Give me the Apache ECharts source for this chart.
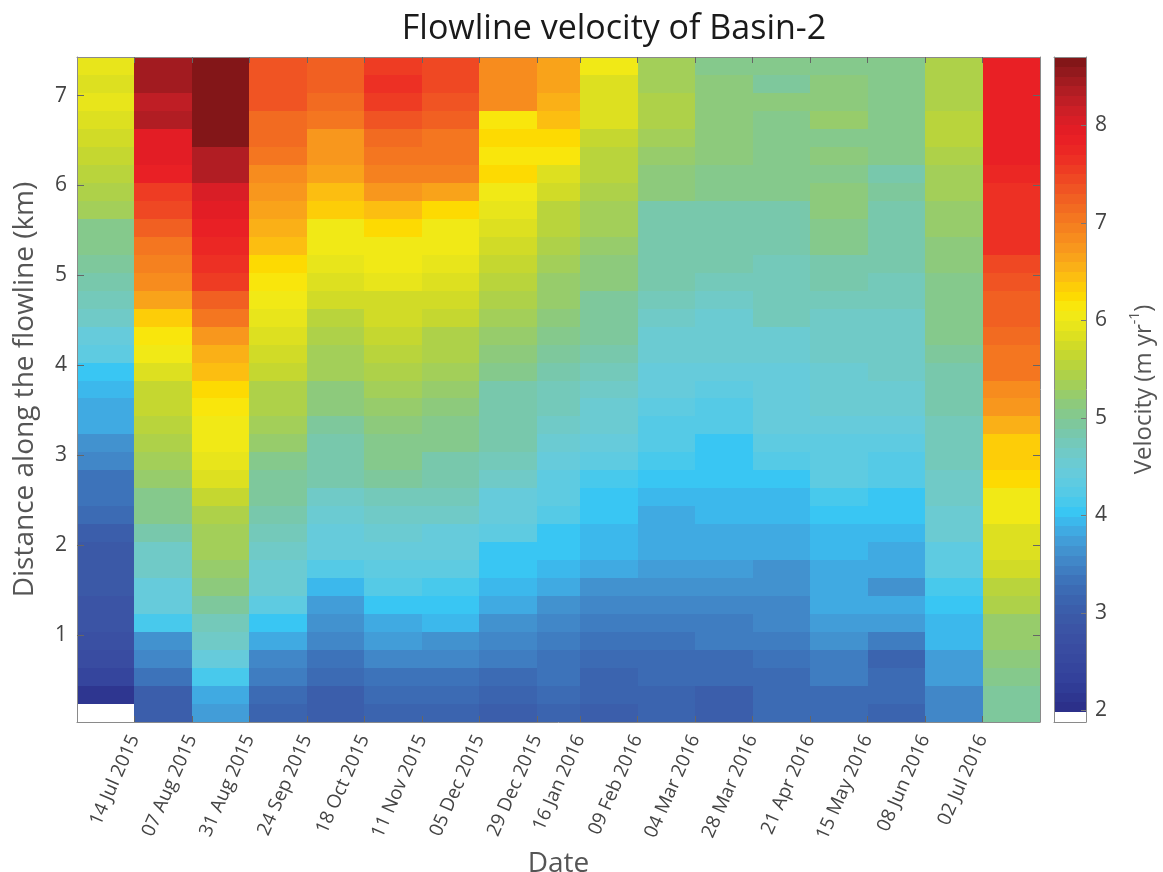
<!DOCTYPE html>
<html>
<head>
<meta charset="utf-8">
<script src="https://cdn.jsdelivr.net/npm/echarts@6/dist/echarts.min.js"></script>
<style>
html,body{margin:0;padding:0;background:#fff;}
#chart{width:1163px;height:872px;}
</style>
</head>
<body>
<div id="chart"></div>
<script>
// ---------- DATA ----------
// column edges (acquisition dates); each column spans [edge i, edge i+1]
const colEdgeDates = ['2015-06-20','2015-07-14','2015-08-07','2015-08-31','2015-09-24','2015-10-18','2015-11-11','2015-12-05','2015-12-29','2016-01-16','2016-02-09','2016-03-04','2016-03-28','2016-04-21','2016-05-15','2016-06-08','2016-07-02','2016-07-26'];
const tickLabels = ['14 Jul 2015','07 Aug 2015','31 Aug 2015','24 Sep 2015','18 Oct 2015','11 Nov 2015','05 Dec 2015','29 Dec 2015','16 Jan 2016','09 Feb 2016','04 Mar 2016','28 Mar 2016','21 Apr 2016','15 May 2016','08 Jun 2016','02 Jul 2016'];
// distance along flowline, row centres (km), top to bottom; each row is 0.2 km tall
const distanceKm = [7.33,7.13,6.93,6.73,6.53,6.33,6.13,5.93,5.73,5.53,5.33,5.13,4.93,4.73,4.53,4.33,4.13,3.93,3.73,3.53,3.33,3.13,2.93,2.73,2.53,2.33,2.13,1.93,1.73,1.53,1.33,1.13,0.93,0.73,0.53,0.33,0.13];
const rowHalf = 0.1;
// velocity (m/yr) per column, top to bottom
const v01 = [5.95,5.85,5.92,5.85,5.7,5.6,5.5,5.4,5.3,5.05,5.0,4.92,4.88,4.78,4.6,4.45,4.3,4.05,3.95,3.82,3.8,3.68,3.55,3.35,3.3,3.2,3.05,2.98,2.95,2.95,2.82,2.8,2.75,2.6,2.4,2.15,null];
const v02 = [8.4,8.4,8.25,8.3,7.95,7.9,7.85,7.55,7.45,7.25,7.05,6.95,6.85,6.65,6.35,6.15,6.05,5.85,5.65,5.6,5.5,5.42,5.3,5.2,5.05,5.05,4.82,4.68,4.6,4.48,4.4,4.1,3.65,3.5,3.38,3.05,3.02];
const v03 = [8.68,8.68,8.68,8.68,8.6,8.35,8.3,8.0,7.95,7.85,7.72,7.62,7.5,7.25,7.05,6.72,6.55,6.45,6.2,6.15,6.05,6.02,5.9,5.85,5.65,5.45,5.38,5.3,5.25,5.1,4.9,4.75,4.65,4.45,4.1,3.85,3.7];
const v04 = [7.32,7.38,7.35,7.15,7.1,7.0,6.85,6.72,6.65,6.5,6.45,6.25,6.1,6.05,5.97,5.85,5.72,5.62,5.48,5.42,5.35,5.22,5.0,4.97,4.92,4.8,4.7,4.68,4.58,4.5,4.3,4.02,3.82,3.52,3.45,3.25,3.12];
const v05 = [7.2,7.2,7.12,7.05,6.72,6.7,6.6,6.45,6.3,6.05,6.02,5.95,5.85,5.72,5.58,5.45,5.35,5.3,5.15,5.12,4.98,4.85,4.8,4.8,4.65,4.52,4.45,4.42,4.25,3.9,3.72,3.6,3.57,3.3,3.22,3.08,3.03];
const v06 = [7.58,7.62,7.55,7.3,7.15,7.0,6.9,6.7,6.45,6.22,6.05,6.05,5.9,5.78,5.72,5.62,5.5,5.42,5.3,5.25,5.18,5.05,5.02,4.95,4.72,4.68,4.5,4.45,4.3,4.25,4.05,3.85,3.7,3.5,3.35,3.2,3.1];
const v07 = [7.45,7.45,7.3,7.28,7.05,7.0,6.9,6.6,6.2,6.05,6.05,5.92,5.85,5.72,5.65,5.48,5.45,5.35,5.2,5.18,5.05,5.0,4.88,4.88,4.7,4.68,4.45,4.45,4.3,4.1,4.05,3.95,3.68,3.5,3.35,3.25,3.12];
const v08 = [6.85,6.85,6.85,6.15,6.2,6.15,6.2,6.05,5.92,5.85,5.72,5.65,5.5,5.42,5.3,5.2,5.1,5.05,4.88,4.88,4.88,4.8,4.72,4.68,4.45,4.4,4.35,4.05,4.0,3.92,3.8,3.68,3.5,3.4,3.25,3.15,3.02];
const v09 = [6.62,6.6,6.5,6.48,6.2,6.1,5.85,5.72,5.55,5.52,5.42,5.3,5.25,5.25,5.15,5.05,4.98,4.85,4.78,4.7,4.6,4.55,4.45,4.35,4.3,4.28,4.05,4.02,3.9,3.8,3.65,3.55,3.45,3.35,3.35,3.2,3.12];
const v10 = [6.02,5.85,5.88,5.85,5.68,5.58,5.5,5.48,5.35,5.33,5.27,5.15,5.1,4.98,4.95,4.95,4.85,4.7,4.68,4.58,4.52,4.45,4.35,4.1,4.05,4.0,3.97,3.9,3.82,3.62,3.58,3.45,3.38,3.25,3.15,3.12,3.06];
const v11 = [5.35,5.35,5.45,5.45,5.35,5.2,5.15,5.15,4.82,4.82,4.86,4.86,4.82,4.78,4.68,4.58,4.55,4.45,4.4,4.35,4.28,4.28,4.1,4.05,3.9,3.82,3.82,3.82,3.7,3.6,3.55,3.42,3.38,3.25,3.22,3.1,3.1];
const v12 = [5.0,5.1,5.12,5.12,5.12,5.15,5.02,5.02,4.8,4.8,4.8,4.8,4.72,4.67,4.58,4.5,4.5,4.4,4.3,4.28,4.28,4.05,4.02,4.0,3.97,3.97,3.8,3.8,3.7,3.68,3.55,3.45,3.4,3.28,3.2,3.08,3.05];
const v13 = [5.05,4.92,5.15,5.05,5.02,5.0,5.0,5.0,4.85,4.85,4.8,4.78,4.78,4.78,4.72,4.55,4.5,4.45,4.4,4.4,4.4,4.32,4.2,4.02,3.97,3.92,3.82,3.8,3.68,3.68,3.58,3.52,3.4,3.35,3.25,3.25,3.22];
const v14 = [5.05,5.12,5.18,5.2,5.05,5.15,5.05,5.1,5.12,5.0,5.0,4.85,4.85,4.72,4.68,4.68,4.65,4.5,4.5,4.5,4.4,4.35,4.3,4.3,4.1,4.02,3.97,3.95,3.82,3.82,3.82,3.7,3.65,3.4,3.4,3.25,3.25];
const v15 = [5.05,5.05,5.05,5.05,5.05,5.05,4.88,4.95,4.85,4.85,4.85,4.85,4.78,4.75,4.68,4.65,4.65,4.65,4.55,4.5,4.42,4.35,4.28,4.28,4.05,4.02,3.95,3.85,3.8,3.68,3.82,3.78,3.4,3.15,3.25,3.25,3.12];
const v16 = [5.42,5.42,5.45,5.58,5.5,5.42,5.35,5.33,5.25,5.25,5.12,5.12,5.05,5.05,5.05,5.0,4.95,4.85,4.85,4.82,4.75,4.75,4.75,4.68,4.65,4.5,4.5,4.38,4.3,4.1,4.02,3.97,3.97,3.75,3.75,3.55,3.55];
const v17 = [7.88,7.88,7.88,7.88,7.85,7.8,7.75,7.68,7.6,7.6,7.6,7.4,7.35,7.22,7.2,7.1,7.0,7.0,6.85,6.72,6.55,6.35,6.3,6.2,6.05,6.02,5.88,5.82,5.7,5.55,5.4,5.28,5.2,5.12,5.08,4.9,4.9];
const columns = [v01,v02,v03,v04,v05,v06,v07,v08,v09,v10,v11,v12,v13,v14,v15,v16,v17];
// colour-bar ticks
const cbarTicks = [2,3,4,5,6,7,8];
const yTicks = [1,2,3,4,5,6,7];

// ---------- COLOUR MAP (style) ----------
const cmin = 1.88, cmax = 8.70, nBands = 68;
const cmapStops = [
 [2.0,'#2b2e88'],[2.3,'#32409a'],[2.6,'#394ba0'],[2.9,'#3b57a6'],[3.1,'#3b62ad'],[3.3,'#3c70b8'],
 [3.5,'#4084c6'],[3.7,'#4398d4'],[3.9,'#3eb2e8'],[4.02,'#36c6f4'],[4.2,'#52cae8'],[4.4,'#64cbde'],
 [4.6,'#6ecbcc'],[4.8,'#76c8b2'],[5.0,'#82c892'],[5.2,'#92cb72'],[5.4,'#aad04e'],[5.6,'#c0d534'],
 [5.8,'#d8de22'],[6.0,'#eee818'],[6.1,'#f6ea14'],[6.2,'#fde000'],[6.35,'#fdcc08'],[6.5,'#fbb516'],
 [6.7,'#f89c1c'],[6.9,'#f6861f'],[7.1,'#f37021'],[7.3,'#f05a23'],[7.5,'#ee4223'],[7.7,'#ec2a24'],
 [7.9,'#e81d25'],[8.1,'#d41f26'],[8.3,'#b81e24'],[8.5,'#9a1a1f'],[8.7,'#7b1416']
];
function hex2rgb(h){return [parseInt(h.substr(1,2),16),parseInt(h.substr(3,2),16),parseInt(h.substr(5,2),16)];}
function smooth(v){
  if (v <= cmapStops[0][0]) return cmapStops[0][1];
  for (let i=1;i<cmapStops.length;i++){
    if (v <= cmapStops[i][0]){
      const a=cmapStops[i-1], b=cmapStops[i], t=(v-a[0])/(b[0]-a[0]);
      const ca=hex2rgb(a[1]), cb=hex2rgb(b[1]);
      const c=ca.map((x,k)=>Math.round(x+(cb[k]-x)*t));
      return 'rgb('+c.join(',')+')';
    }
  }
  return cmapStops[cmapStops.length-1][1];
}
const bandStep = (cmax-cmin)/nBands;
const bandColors = [];
for (let k=0;k<nBands;k++){ bandColors.push(k===0 ? '#ffffff' : smooth(cmin+(k+0.5)*bandStep)); }
function colorFor(v){
  let k = Math.floor((v-cmin)/bandStep);
  if (k<1) k=1; if (k>nBands-1) k=nBands-1;
  return bandColors[k];
}

// ---------- BUILD ----------
const DAY = 86400000;
const t0 = Date.parse(colEdgeDates[0]);
const edgeDays = colEdgeDates.map(d => Math.round((Date.parse(d)-t0)/DAY));
const tickDays = edgeDays.slice(1, edgeDays.length-1);
const labelByDay = {};
tickDays.forEach((d,i)=>{labelByDay[d]=tickLabels[i];});

const cells = [];
columns.forEach((col,c)=>{
  col.forEach((v,r)=>{
    if (v===null) return;
    cells.push([edgeDays[c], edgeDays[c+1], distanceKm[r]-rowHalf, distanceKm[r]+rowHalf, v]);
  });
});
const cbarCells = bandColors.map((col,k)=>[0,1,cmin+k*bandStep,cmin+(k+1)*bandStep,k]);

function rectItem(api, fill){
  const p0 = api.coord([api.value(0), api.value(3)]);
  const p1 = api.coord([api.value(1), api.value(2)]);
  const L=Math.round(p0[0]), T=Math.round(p0[1]), R=Math.round(p1[0]), B=Math.round(p1[1]);
  return {type:'rect', shape:{x:L,y:T,width:R-L,height:B-T}, style:{fill:fill}};
}

const FONT = '"Open Sans", "Noto Sans", sans-serif';
const axisGray = '#8a8a8a';
const labelGray = '#444444';
const nameGray = '#555555';

const chart = echarts.init(document.getElementById('chart'), null, {renderer:'canvas'});
chart.setOption({
  animation:false,
  backgroundColor:'#ffffff',
  title:{
    text:'Flowline velocity of Basin-2',
    left:609, top:7, textAlign:'center',
    textStyle:{fontFamily:FONT, fontSize:34, fontWeight:'normal', color:'#1a1a1a'}
  },
  grid:[
    {left:77, top:57, width:963, height:665, containLabel:false, outerBoundsMode:'none'},
    {left:1054, top:57, width:32, height:665, containLabel:false, outerBoundsMode:'none'}
  ],
  xAxis:[
    {gridIndex:0, type:'value', min:0, max:edgeDays[edgeDays.length-1], position:'bottom', z:10,
     name:'Date', nameLocation:'middle', nameGap:122,
     nameTextStyle:{fontFamily:FONT, fontSize:28, color:nameGray},
     axisLine:{show:true, onZero:false, lineStyle:{color:axisGray, width:1}},
     axisTick:{show:true, inside:true, length:6, customValues:tickDays, lineStyle:{color:'#666'}},
     axisLabel:{show:true, customValues:tickDays, rotate:66, margin:14,
       fontFamily:FONT, fontSize:19, color:labelGray,
       formatter:(v)=>labelByDay[Math.round(v)]||''},
     splitLine:{show:false}},
    {gridIndex:0, type:'value', min:0, max:edgeDays[edgeDays.length-1], position:'top', z:10,
     axisLine:{show:true, onZero:false, lineStyle:{color:axisGray, width:1}},
     axisTick:{show:true, inside:true, length:6, customValues:tickDays, lineStyle:{color:'#666'}},
     axisLabel:{show:false}, splitLine:{show:false}},
    {gridIndex:1, type:'value', min:0, max:1, position:'bottom', z:10,
     axisLine:{show:true, onZero:false, lineStyle:{color:axisGray}}, axisTick:{show:false}, axisLabel:{show:false}, splitLine:{show:false}},
    {gridIndex:1, type:'value', min:0, max:1, position:'top', z:10,
     axisLine:{show:true, onZero:false, lineStyle:{color:axisGray}}, axisTick:{show:false}, axisLabel:{show:false}, splitLine:{show:false}}
  ],
  yAxis:[
    {gridIndex:0, type:'value', min:0.03, max:7.43, position:'left', z:10,
     name:'Distance along the flowline (km)', nameLocation:'middle', nameGap:38, nameRotate:90,
     nameTextStyle:{fontFamily:FONT, fontSize:28, color:nameGray},
     axisLine:{show:true, onZero:false, lineStyle:{color:axisGray}},
     axisTick:{show:true, inside:true, length:7, customValues:yTicks, lineStyle:{color:'#666'}},
     axisLabel:{show:true, customValues:yTicks, margin:10, fontFamily:FONT, fontSize:21, color:labelGray},
     splitLine:{show:false}},
    {gridIndex:0, type:'value', min:0.03, max:7.43, position:'right', z:10,
     axisLine:{show:true, onZero:false, lineStyle:{color:axisGray}},
     axisTick:{show:true, inside:true, length:7, customValues:yTicks, lineStyle:{color:'#666'}},
     axisLabel:{show:false}, splitLine:{show:false}},
    {gridIndex:1, type:'value', min:cmin, max:cmax, position:'right', z:10,
     name:'Velocity (m yr{sup|-1})', nameLocation:'middle', nameGap:42, nameRotate:90,
     nameTextStyle:{fontFamily:FONT, fontSize:24, color:nameGray,
       rich:{sup:{fontFamily:FONT, fontSize:14, color:nameGray, verticalAlign:'top', lineHeight:32, padding:[0,0,10,0]}}},
     axisLine:{show:true, onZero:false, lineStyle:{color:axisGray}},
     axisTick:{show:true, inside:true, length:5, customValues:cbarTicks, lineStyle:{color:'#777'}},
     axisLabel:{show:true, customValues:cbarTicks, margin:9, fontFamily:FONT, fontSize:21, color:labelGray},
     splitLine:{show:false}},
    {gridIndex:1, type:'value', min:cmin, max:cmax, position:'left', z:10,
     axisLine:{show:true, onZero:false, lineStyle:{color:axisGray}}, axisTick:{show:false}, axisLabel:{show:false}, splitLine:{show:false}}
  ],
  series:[
    {type:'custom', name:'velocity', xAxisIndex:0, yAxisIndex:0, clip:true,
     encode:{x:[0,1], y:[2,3]}, data:cells,
     renderItem:(params, api)=>rectItem(api, colorFor(api.value(4)))},
    {type:'custom', name:'colorbar', xAxisIndex:2, yAxisIndex:2, clip:true,
     encode:{x:[0,1], y:[2,3]}, data:cbarCells,
     renderItem:(params, api)=>rectItem(api, bandColors[api.value(4)])}
  ]
});
</script>
</body>
</html>
